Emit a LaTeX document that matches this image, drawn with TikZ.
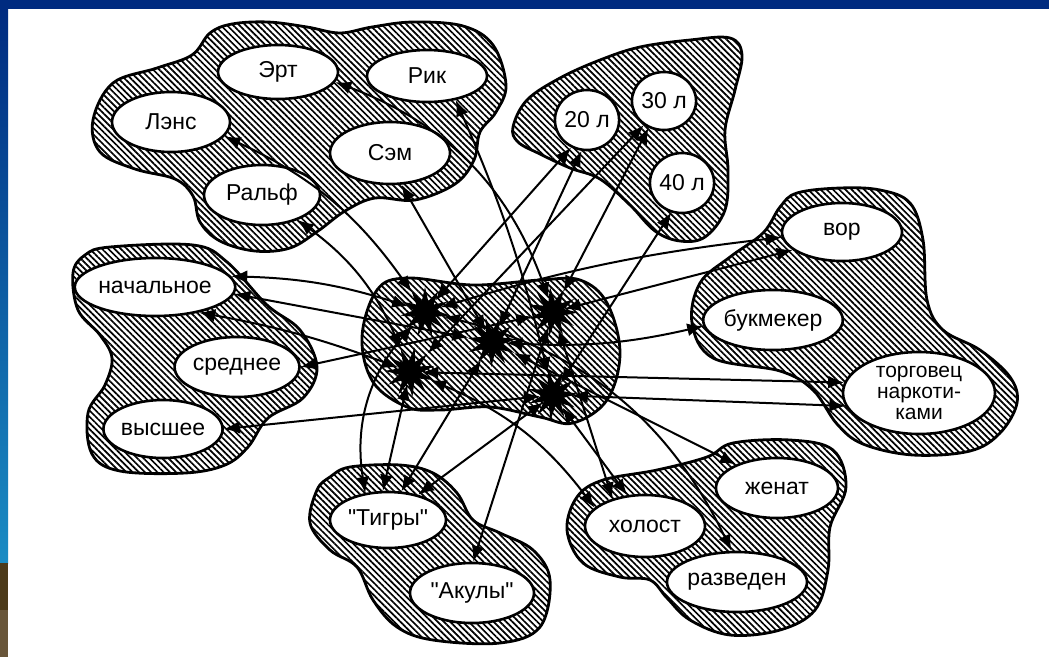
\documentclass[tikz,border=0pt]{standalone}
\usepackage{fontspec}
\setmainfont{Liberation Sans}
\usetikzlibrary{shapes.geometric,patterns.meta,arrows.meta}

\definecolor{framebl}{RGB}{0,43,128}
\definecolor{framelt}{RGB}{26,140,196}
\definecolor{framebr}{RGB}{76,58,26}
\definecolor{framebrl}{RGB}{105,86,58}

% straight double quote, kept out of the TeX ligature mapping
\newcommand\sq{\XeTeXglyph\XeTeXcharglyph"22\relax}

\tikzset{
  blob/.style={line width=2.8pt, pattern={Lines[angle=-45,distance=4.4pt,line width=1.7pt]}},
  val/.style={ellipse, draw, line width=2.6pt, fill=white, inner sep=0pt,
    font=\fontsize{23}{18}\selectfont, align=center},
  sz/.style 2 args={minimum width=#1pt, minimum height=#2pt},
  dot/.style={star, star points=11, star point ratio=2.2, fill=black,
    minimum size=50pt, inner sep=0pt},
  link/.style={{Latex[length=16pt,width=13pt]}-{Latex[length=16pt,width=13pt]}, line width=2pt}
}

\begin{document}
\begin{tikzpicture}
[
  x=1pt, y=-1pt
]
\useasboundingbox (0,0) rectangle (1049,657);
\fill[white] (0,0) rectangle (1049,657);

% frame
\fill[framebl] (0,0) rectangle (1049,9);
\shade[top color=framebl, bottom color=framelt] (0,9) rectangle (8,563);
\fill[framebr] (0,563) rectangle (8,610);
\fill[framebrl] (0,610) rectangle (8,657);

% groups
\draw[blob] plot[smooth cycle, tension=0.6] coordinates {
  (93,120) (113,83) (157,68) (192,55) (210,33) (232,24) (268,22) (307,27)
  (340,33) (372,27) (413,22) (463,26) (493,45) (506,85) (496,112) (480,132)
  (474,160) (455,184) (415,200) (375,198) (345,211) (318,231) (290,248)
  (255,251) (220,241) (200,222) (193,196) (175,179) (135,169) (100,152)};
\draw[blob] plot[smooth cycle, tension=0.6] coordinates {
  (513,127) (527,100) (560,78) (600,60) (640,47) (690,40) (730,38) (742,55)
  (735,90) (725,130) (728,170) (725,210) (705,237) (680,241) (655,231)
  (630,205) (600,179) (570,168) (540,154) (518,142)};
\draw[blob] plot[smooth cycle, tension=0.6] coordinates {
  (73,273) (85,255) (110,247) (193,245) (227,262) (267,305) (300,330)
  (317,367) (303,398) (268,418) (248,447) (225,465) (185,473) (120,471)
  (92,454) (88,413) (105,385) (112,358) (100,335) (78,310)};
\draw[blob] plot[smooth cycle, tension=0.6] coordinates {
  (780,207) (797,193) (840,188) (880,190) (910,203) (923,240) (927,300)
  (943,330) (980,350) (1010,377) (1017,403) (1000,433) (970,451) (913,455)
  (863,444) (837,424) (813,390) (780,371) (713,358) (692,323) (700,283)
  (730,257) (763,233)};
\draw[blob] plot[smooth cycle, tension=0.6] coordinates {
  (350,467) (400,465) (433,473) (457,493) (473,520) (500,533) (533,550)
  (550,580) (540,627) (500,643) (433,640) (397,627) (373,600) (357,567)
  (330,550) (310,523) (317,490) (330,477)};
\draw[blob] plot[smooth cycle, tension=0.6] coordinates {
  (567,530) (577,497) (603,480) (657,470) (707,457) (733,443) (790,440)
  (833,450) (846,487) (830,527) (828,570) (815,610) (780,630) (730,635)
  (690,620) (667,598) (650,580) (620,577) (583,563)};
\draw[blob] plot[smooth cycle, tension=0.6] coordinates {
  (362,337) (377,290) (407,278) (473,285) (540,280) (580,280) (607,303)
  (620,353) (607,400) (573,423) (540,417) (490,407) (440,410) (407,407)
  (373,382)};

% names
\node[val, sz={120}{54}] (ert) at (278,72) {Эрт};
\node[val, sz={120}{52}] (rik) at (427,76) {Рик};
\node[val, sz={118}{60}] (lens) at (171,122) {Лэнс};
\node[val, sz={120}{62}] (sem) at (390,153) {Сэм};
\node[val, sz={116}{60}] (ralf) at (262,195) {Ральф};
% ages
\node[val, sz={58}{60}] (a20) at (587,120) {20 л};
\node[val, sz={56}{58}] (a30) at (664,101) {30 л};
\node[val, sz={57}{60}] (a40) at (682,183) {40 л};
% education
\node[val, sz={126}{58}] (nach) at (155,287) {начальное};
\node[val, sz={116}{60}] (sred) at (237,367) {среднее};
\node[val, sz={114}{58}] (vys) at (163,429) {высшее};
% occupation
\node[val, sz={120}{58}] (vor) at (842,232) {вор};
\node[val, sz={126}{60}] (buk) at (773,320) {букмекер};
\node[val, sz={152}{82}, inner sep=-9pt, font=\fontsize{21}{21}\selectfont]
  (torg) at (919,393) {торговец\\наркоти-\\ками};
% gangs
\node[val, sz={116}{56}] (tigr) at (388,520) {\sq Тигры\sq};
\node[val, sz={124}{60}] (akul) at (472,593) {\sq Акулы\sq};
% status
\node[val, sz={122}{60}] (zhen) at (777,488) {женат};
\node[val, sz={120}{62}] (hol) at (645,526) {холост};
\node[val, sz={128}{60}] (razv) at (737,582) {разведен};

% persons
\node[dot] (A) at (425,312) {};
\node[dot, rotate=15] (B) at (492,342) {};
\node[dot, rotate=7] (C) at (553,312) {};
\node[dot, rotate=22] (D) at (410,372) {};
\node[dot, rotate=11] (E) at (553,395) {};

\path[link]
(lens.-15) edge [bend left=15] (A)
(a20.-120) edge (A)
(nach.8) edge [bend left=8] (A)
(vor.-175) edge [bend right=5] (A)
(tigr.130) edge [bend left=25] (A)
(razv.100) edge [bend right=25] (A)

(sem.-70) edge (B)
(a20.-100) edge (B)
(nach.-5) edge (B)
(buk.185) edge [bend left=8] (B)
(tigr.65) edge (B)
(zhen.150) edge (B)

(ert.-10) edge [bend left=25] (C)
(a30.-120) edge (C)
(sred.east) edge (C)
(vor.-160) edge (C)
(akul.88) edge (C)
(hol.140) edge (C)

(ralf.-35) edge [bend left=15] (D)
(a30.-130) edge (D)
(nach.-30) edge [bend left=5] (D)
(torg.172) edge (D)
(tigr.100) edge (D)
(hol.160) edge [bend right=15] (D)

(rik.-40) edge [bend left=5] (E)
(a40.-110) edge (E)
(vys.east) edge (E)
(torg.190) edge (E)
(tigr.40) edge (E)
(hol.120) edge (E);

\end{tikzpicture}
\end{document}
